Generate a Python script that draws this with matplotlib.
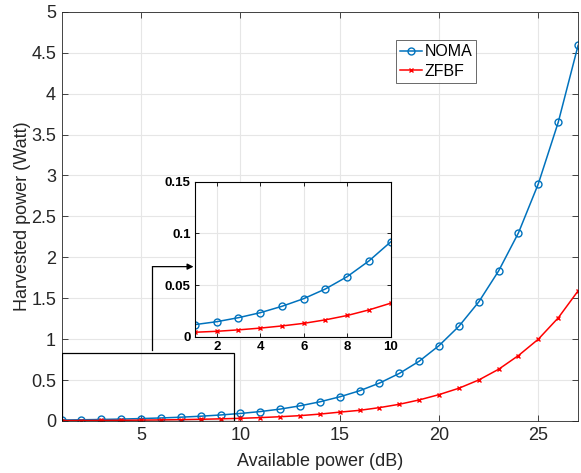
import numpy as np
import matplotlib.pyplot as plt
from matplotlib.patches import Rectangle

plt.rcParams['font.family'] = ['Liberation Sans', 'DejaVu Sans']

# available power (dB)
power_db = list(range(1, 28))

# harvested power (Watt)
noma = [0.0117, 0.0145, 0.0184, 0.0232, 0.0294, 0.0368, 0.0462, 0.0581, 0.0733, 0.0917,
        0.115, 0.145, 0.185, 0.234, 0.295, 0.369, 0.463, 0.581, 0.730, 0.921,
        1.157, 1.455, 1.834, 2.30, 2.90, 3.65, 4.59]
zfbf = [0.0043, 0.0052, 0.0066, 0.0083, 0.0104, 0.0129, 0.0163, 0.0205, 0.0259, 0.0324,
        0.041, 0.052, 0.065, 0.084, 0.108, 0.130, 0.163, 0.204, 0.257, 0.322,
        0.40, 0.501, 0.632, 0.80, 1.00, 1.26, 1.59]

x_ticks = [5, 10, 15, 20, 25]
y_ticks = [0, 0.5, 1, 1.5, 2, 2.5, 3, 3.5, 4, 4.5, 5]
inset_x_ticks = [2, 4, 6, 8, 10]
inset_y_ticks = [0, 0.05, 0.1, 0.15]

blue = '#0072BD'
red = '#FF0000'
txt = '#262626'
spine = '#262626'

fig = plt.figure(figsize=(5.81, 4.73), dpi=100)
ax = fig.add_axes([0.106, 0.110, 0.889, 0.865])

ax.plot(power_db, noma, color=blue, marker='o', markersize=5, markerfacecolor='none',
        markeredgewidth=1.0, linewidth=1.1, label='NOMA')
ax.plot(power_db, zfbf, color=red, marker='x', markersize=3.5, markeredgewidth=1.0,
        linewidth=1.1, label='ZFBF')

ax.set_xlim(1, 27)
ax.set_ylim(0, 5)
ax.set_xticks(x_ticks)
ax.set_yticks(y_ticks)
ax.set_yticklabels(['0', '0.5', '1', '1.5', '2', '2.5', '3', '3.5', '4', '4.5', '5'])
ax.tick_params(direction='in', top=True, right=True, labelsize=13, colors=txt,
               length=4, width=0.6, pad=4)
ax.grid(True, color='#e6e6e6', linewidth=0.8)
ax.set_axisbelow(True)
for s in ax.spines.values():
    s.set_color(spine)
    s.set_linewidth(0.6)
ax.set_xlabel('Available power (dB)', fontsize=13, color=txt, labelpad=7)
ax.set_ylabel('Harvested power (Watt)', fontsize=13, color=txt, labelpad=0)

leg = ax.legend(loc='upper left', bbox_to_anchor=(0.681, 0.915), bbox_transform=fig.transFigure,
                fontsize=11.5, frameon=True, fancybox=False, edgecolor='#262626',
                handlelength=1.4, handletextpad=0.15, borderpad=0.25, labelspacing=0.3,
                borderaxespad=0)
leg.get_frame().set_linewidth(0.6)

# zoom box and arrow
ax.add_patch(Rectangle((1, 0), 8.68, 0.83, fill=False, edgecolor='black', linewidth=0.9, zorder=5))
ax.plot([5.57, 5.57], [0.87, 1.886], color='black', linewidth=0.9, zorder=5)
ax.annotate('', xy=(7.64, 1.886), xytext=(5.57, 1.886),
            arrowprops=dict(arrowstyle='-|>', color='black', lw=0.9, mutation_scale=9,
                            shrinkA=0, shrinkB=0), zorder=5)

# inset
ins = fig.add_axes([0.3356, 0.2882, 0.3368, 0.3277])
ins.plot(power_db[:10], noma[:10], color=blue, marker='o', markersize=5,
         markerfacecolor='none', markeredgewidth=1.0, linewidth=1.1)
ins.plot(power_db[:10], zfbf[:10], color=red, marker='x', markersize=3.5,
         markeredgewidth=1.0, linewidth=1.1)
ins.set_xlim(1, 10)
ins.set_ylim(0, 0.15)
ins.set_xticks(inset_x_ticks)
ins.set_yticks(inset_y_ticks)
ins.set_yticklabels(['0', '0.05', '0.1', '0.15'])
ins.tick_params(direction='in', top=True, right=True, labelsize=9.5, colors='black',
                length=3, width=0.6, pad=3)
for lab in ins.get_xticklabels() + ins.get_yticklabels():
    lab.set_fontweight('bold')
ins.grid(True, color='#e6e6e6', linewidth=0.8)
ins.set_axisbelow(True)
for s in ins.spines.values():
    s.set_color('black')
    s.set_linewidth(0.8)

fig.savefig('out.png', dpi=100)
